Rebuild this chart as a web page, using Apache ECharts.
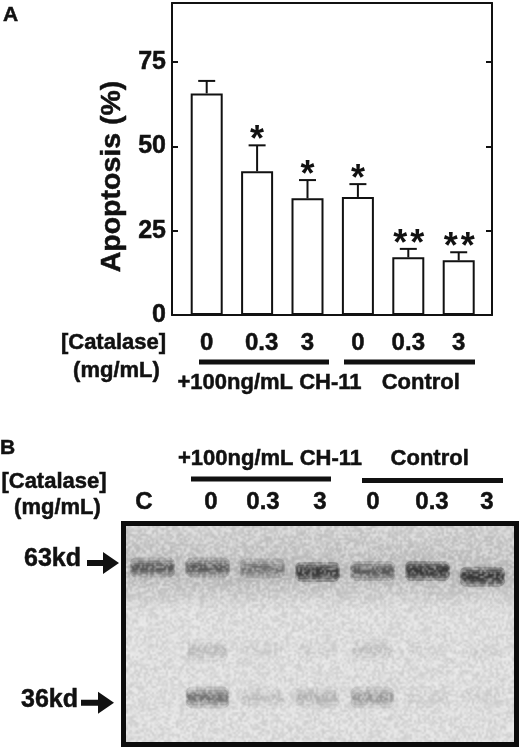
<!DOCTYPE html>
<html><head><meta charset="utf-8">
<style>html,body{margin:0;padding:0;background:#fff}#c{width:520px;height:749px}</style>
<script src="https://cdn.jsdelivr.net/npm/echarts@6/dist/echarts.min.js"></script>
</head><body><div id="c"></div>
<script>
// Panel A data
const catalaseLabels = ['0','0.3','3','0','0.3','3'];
const apoptosis = [65.7,42.6,34.6,35.0,17.1,16.2];
const errorTop = [69.4,50.3,40.0,38.8,19.6,18.6];
const stars = [0,1,1,1,2,2];
const yTicks = [0,25,50,75];
// Panel B data (read from the blot)
const lanes = ['C','0','0.3','3','0','0.3','3'];
const kd63 = [63.1,63.1,62.9,62.2,62.4,62.4,61.2];
const density63 = [0.58,0.58,0.4,0.95,0.58,0.95,1.0];
const kdMid = 45.8;
const densityMid = [0,0.12,0.03,0.03,0.10,0.02,0.02];
const kd36 = 35.9;
const density36 = [0,0.5,0.11,0.15,0.28,0.03,0.03];

const FONT='"Liberation Sans",Arial,sans-serif', INK='#111', HEAVY=0.5;
const chart = echarts.init(document.getElementById('c'),null,{renderer:'canvas'});

function txt(t,x,y,size,align){return {type:'text',x:x,y:y,z:20,style:{text:t,x:0,y:0,fill:INK,stroke:INK,lineWidth:HEAVY,
  font:'bold '+size+'px '+FONT,textAlign:align||'center',textVerticalAlign:'middle'}};}
function rect(x,y,w,h){return {type:'rect',z:20,shape:{x:x,y:y,width:w,height:h},style:{fill:INK}};}
function arrow(x0,x1,x2,y){return {type:'polygon',z:20,shape:{points:[[x0,y-3],[x1,y-3],[x1,y-11],[x2,y],[x1,y+11],[x1,y+3],[x0,y+3]]},style:{fill:INK}};}

// decorative film grain over the blot (not data)
function grain(){
  const w=194,h=108,cv=document.createElement('canvas');cv.width=w;cv.height=h;
  const g=cv.getContext('2d'),im=g.createImageData(w,h);let s=12345;
  const next=()=>{s=(s*1103515245+12345)&0x7fffffff;return (s>>>8)/0x7fffff;};
  for(let i=0;i<w*h;i++){const v=next();const o=i*4;
    if(v>0.45){im.data[o]=im.data[o+1]=im.data[o+2]=255;im.data[o+3]=(v-0.45)*220;}
    else{im.data[o]=im.data[o+1]=im.data[o+2]=90;im.data[o+3]=(0.45-v)*70;}}
  g.putImageData(im,0,0);return cv;
}

function bandItem(params,api){
  const i=params.dataIndex, sz=api.size([1,0])[0];
  const kids=[];
  const add=(kd,d,wf,h)=>{
    if(d<=0) return;
    const p=api.coord([i,kd]), w=sz*wf;
    [[1.0,1.0],[0.97,0.7],[0.94,0.46],[0.9,0.26]].forEach(L=>{
      const ww=w*L[0], hh=h*L[1];
      kids.push({type:'rect',shape:{x:p[0]-ww/2,y:p[1]-hh,width:ww,height:hh*2,r:hh*0.6},
        style:{fill:'rgba(25,25,25,'+(d*0.30)+')',shadowBlur:5,shadowColor:'rgba(25,25,25,'+(d*0.35)+')'}});
    });
  };
  add(kd63[i],density63[i],0.82,10);
  add(kdMid,densityMid[i],0.74,11);
  add(kd36,density36[i],0.8,11);
  return {type:'group',children:kids};
}

chart.setOption({
  animation:false, backgroundColor:'#fff',
  grid:[
    {left:172,top:3,width:320,height:312},
    {left:181.5,top:3,width:302.4,height:312},
    {left:125,top:526,width:385,height:216}
  ],
  xAxis:[
    {gridIndex:0,type:'value',min:0,max:1,position:'bottom',splitLine:{show:false},axisTick:{show:false},axisLabel:{show:false},axisLine:{show:true,onZero:false,lineStyle:{color:INK,width:2}}},
    {gridIndex:0,type:'value',min:0,max:1,position:'top',splitLine:{show:false},axisTick:{show:false},axisLabel:{show:false},axisLine:{show:true,onZero:false,lineStyle:{color:INK,width:2}}},
    {gridIndex:1,type:'category',data:catalaseLabels,position:'bottom',axisLine:{show:false},axisTick:{show:false},
      axisLabel:{interval:0,margin:16,color:INK,fontFamily:FONT,fontWeight:'bold',fontSize:24,textBorderColor:INK,textBorderWidth:HEAVY,
        formatter:(v,i)=>i===1?'{s|'+v+'}':v,rich:{s:{padding:[0,0,0,9],color:INK,fontFamily:FONT,fontWeight:'bold',fontSize:24,textBorderColor:INK,textBorderWidth:HEAVY}}}},
    {gridIndex:2,type:'category',data:lanes,show:false}
  ],
  yAxis:[
    {gridIndex:0,type:'value',min:0,max:92.5,interval:25,position:'left',
      name:'Apoptosis (%)',nameLocation:'middle',nameGap:45,nameRotate:90,
      nameTextStyle:{color:INK,fontFamily:FONT,fontWeight:'bold',fontSize:28.5,padding:[0,35,0,0],textBorderColor:INK,textBorderWidth:HEAVY},
      splitLine:{show:false},
      axisLine:{show:true,onZero:false,lineStyle:{color:INK,width:2}},
      axisTick:{show:true,inside:true,length:6,lineStyle:{color:INK,width:2}},
      axisLabel:{margin:6,color:INK,fontFamily:FONT,fontWeight:'bold',fontSize:25,showMaxLabel:false,textBorderColor:INK,textBorderWidth:HEAVY,
        formatter:v=>yTicks.includes(v)?String(v):''}},
    {gridIndex:0,type:'value',min:0,max:92.5,interval:25,position:'right',splitLine:{show:false},
      axisLine:{show:true,onZero:false,lineStyle:{color:INK,width:2}},
      axisTick:{show:true,inside:true,length:6,lineStyle:{color:INK,width:2}},axisLabel:{show:false}},
    {gridIndex:1,type:'value',min:0,max:92.5,show:false},
    {gridIndex:2,type:'value',min:26.6,max:71.8,show:false}
  ],
  series:[
    {type:'bar',xAxisIndex:2,yAxisIndex:2,data:apoptosis,barWidth:32,z:3,
      itemStyle:{color:'#fff',borderColor:INK,borderWidth:2}},
    {type:'custom',xAxisIndex:2,yAxisIndex:2,z:2,clip:false,
      data:errorTop.map((e,i)=>[i,apoptosis[i],e]),
      encode:{x:0,y:2},
      renderItem:(p,api)=>{
        const i=api.value(0), a=api.coord([i,api.value(1)]), b=api.coord([i,api.value(2)]);
        const ls={stroke:INK,lineWidth:2,fill:null};
        const n=stars[i];
        const kids=[
          {type:'line',shape:{x1:a[0],y1:a[1],x2:a[0],y2:b[1]},style:ls},
          {type:'line',shape:{x1:a[0]-8.5,y1:b[1],x2:a[0]+8.5,y2:b[1]},style:ls}];
        const at=n===2?[-8,9]:(n===1?[0]:[]);
        at.forEach(dx=>kids.push({type:'text',x:a[0]+dx,y:b[1]-4,style:{text:'*',fill:INK,
          font:'bold 36px '+FONT,textAlign:'center',textVerticalAlign:'middle'}}));
        return {type:'group',children:kids};
      }},
    {type:'custom',xAxisIndex:3,yAxisIndex:3,z:5,clip:true,
      data:lanes.map((l,i)=>[i,kd63[i]]),encode:{x:0,y:1},renderItem:bandItem}
  ],
  graphic:[
    // blot background and frame
    {type:'rect',z:0,shape:{x:123.5,y:523.5,width:393,height:221},style:{fill:'#dcdcdc',stroke:'#0c0c0c',lineWidth:5}},
    {type:'rect',z:0,shape:{x:126,y:526,width:388,height:50},style:{fill:new echarts.graphic.LinearGradient(0,0,0,1,[{offset:0,color:'#cfcfcf'},{offset:1,color:'#b8b8b8'}])}},
    {type:'rect',z:0,shape:{x:126,y:576,width:388,height:35},style:{fill:new echarts.graphic.LinearGradient(0,0,0,1,[{offset:0,color:'#b8b8b8'},{offset:1,color:'#dcdcdc'}])}},
    {type:'image',z:30,style:{image:grain(),x:126,y:526,width:388,height:216}},
    // panel letters
    txt('A',3,15,21,'left'), txt('B',0,448,21,'left'),
    // panel A annotations
    txt('[Catalase]',113.5,342.7,22), txt('(mg/mL)',116.5,370.7,22),
    rect(199,359.5,130,5), rect(344,359.5,131,5),
    txt('+100ng/mL CH-11',269.5,383,22), txt('Control',420.8,383,22),
    // panel B annotations
    txt('+100ng/mL CH-11',270,459,22), txt('Control',429.7,459,22),
    rect(191,476.5,140,5), rect(362,478,141,5),
    txt('[Catalase]',54,481.7,22), txt('(mg/mL)',57.5,508,22),
    txt('C',144,502.7,24), txt('0',211,502.7,24), txt('0.3',263,502.7,24), txt('3',320,502.7,24),
    txt('0',373,502.7,24), txt('0.3',432,502.7,24), txt('3',487,502.7,24),
    txt('63kd',24,559,25,'left'), arrow(87,103,119,563),
    txt('36kd',21,700,25,'left'), arrow(81,98,114,702.7)
  ]
});
</script></body></html>
